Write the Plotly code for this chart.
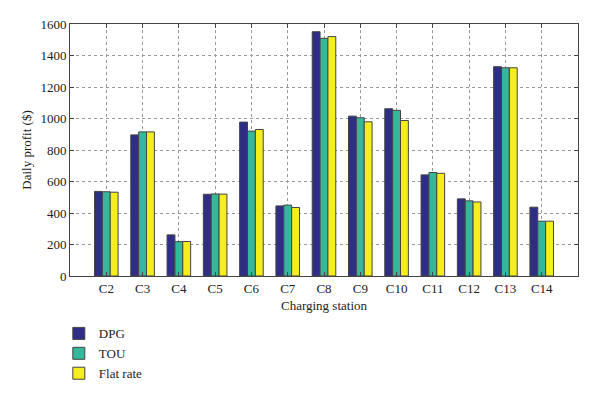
import plotly.graph_objects as go

stations = ["C2", "C3", "C4", "C5", "C6", "C7", "C8", "C9", "C10", "C11", "C12", "C13", "C14"]
dpg = [537, 896, 261, 519, 977, 445, 1551, 1015, 1062, 642, 490, 1329, 437]
tou = [535, 915, 218, 521, 920, 450, 1509, 1005, 1052, 657, 477, 1322, 348]
flat = [532, 915, 219, 520, 930, 435, 1520, 979, 987, 652, 470, 1322, 348]
y_ticks = [0, 200, 400, 600, 800, 1000, 1200, 1400, 1600]

series = [("DPG", dpg, "#2e2e86"), ("TOU", tou, "#35b79b"), ("Flat rate", flat, "#f6ee1c")]

font_family = "Liberation Serif"
fig = go.Figure()
for name, vals, col in series:
    fig.add_trace(go.Bar(
        x=stations, y=vals, name=name,
        marker=dict(color=col, line=dict(color="#444444", width=1)),
    ))

axis_common = dict(
    showline=True, linecolor="#444444", linewidth=1, mirror="allticks",
    ticks="inside", ticklen=4, tickcolor="#444444",
    showgrid=True, gridcolor="#999999", griddash="dot", gridwidth=1,
    tickfont=dict(family=font_family, size=13, color="#222222"),
    zeroline=False, automargin=False,
)

# page body has an 8px default margin, so the figure is sized/offset to fit the 600x399 window
fig.update_layout(
    width=592, height=391,
    margin=dict(l=62, r=22, t=16, b=123),
    paper_bgcolor="white", plot_bgcolor="white",
    barmode="group", bargap=0.35, bargroupgap=0.0,
    font=dict(family=font_family, size=13, color="#222222"),
    xaxis=dict(
        **axis_common,
        range=[-1, 13], ticklabelstandoff=0,
        title=dict(text="Charging station", font=dict(family=font_family, size=13), standoff=6),
    ),
    yaxis=dict(
        **axis_common,
        range=[0, 1600], tickvals=y_ticks,
        title=dict(text="Daily profit ($)", font=dict(family=font_family, size=13), standoff=5),
    ),
    legend=dict(
        xref="paper", yref="container",
        x=-0.022, xanchor="left", y=0.206, yanchor="top",
        font=dict(family=font_family, size=13, color="#222222"),
        bgcolor="rgba(0,0,0,0)",
    ),
    showlegend=True,
)

fig.write_html("out.html")
